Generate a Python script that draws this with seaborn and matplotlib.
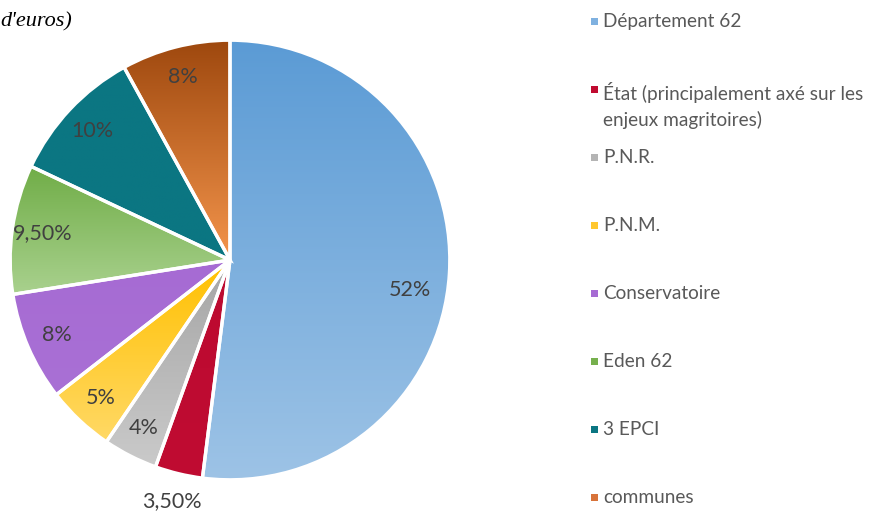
import numpy as np
import matplotlib
matplotlib.use("Agg")
import matplotlib.pyplot as plt
import seaborn as sns
from matplotlib.colors import LinearSegmentedColormap
from matplotlib.patches import Rectangle

sns.set_style("white")
plt.rcParams["font.family"] = ["Lato", "DejaVu Sans"]

# Data
categories = ["Département 62",
              "État (principalement axé sur les\nenjeux magritoires)",
              "P.N.R.", "P.N.M.", "Conservatoire", "Eden 62", "3 EPCI", "communes"]
shares = [52, 3.5, 4, 5, 8, 9.5, 10, 8]
pct_labels = ["52%", "3,50%", "4%", "5%", "8%", "9,50%", "10%", "8%"]
# gradient colours (top, bottom) for each slice
grad_top = ["#5B9BD5", "#BC0A30", "#A5A5A5", "#FFC000", "#A66BD3", "#70AD47", "#0B7682", "#9E480E"]
grad_bottom = ["#9DC3E6", "#C00C32", "#CACACA", "#FFD966", "#A970D5", "#A9D18E", "#0B7682", "#F4954C"]
marker_colors = ["#7FB1E0", "#C00A30", "#B4B4B4", "#FFC72E", "#A66BD3", "#76B04D", "#0B7682", "#D8733A"]

fig = plt.figure(figsize=(8.78, 5.11), dpi=100)
ax = fig.add_axes([(230 - 222) / 878, (251 - 222) / 511, 444 / 878, 444 / 511])

wedges, _ = ax.pie(shares, startangle=90, counterclock=False, radius=1.0,
                   colors=["none"] * len(shares),
                   wedgeprops=dict(edgecolor="white", linewidth=2.4, zorder=3))

grad = np.linspace(0, 1, 256).reshape(-1, 1)
for w, top, bot in zip(wedges, grad_top, grad_bottom):
    ext = w.get_path().get_extents()
    cmap = LinearSegmentedColormap.from_list("g", [top, bot])
    im = ax.imshow(grad, cmap=cmap, extent=[ext.x0, ext.x1, ext.y0, ext.y1],
                   origin="upper", aspect="auto", zorder=2, interpolation="bilinear")
    im.set_clip_path(w)

# percentage labels
biggest = int(np.argmax(shares))
for i, (w, lab, val) in enumerate(zip(wedges, pct_labels, shares)):
    mid = (w.theta1 + w.theta2) / 2
    d = 0.86
    if val < 4:
        d = 1.13
    if i == biggest:
        mid -= 6
        d = 0.83
    ang = np.deg2rad(mid)
    ax.text(d * np.cos(ang), d * np.sin(ang), lab, ha="center", va="center",
            fontsize=15.5, color="#404040", zorder=5)

ax.set_xlim(-1.01, 1.01)
ax.set_ylim(-1.01, 1.01)
ax.set_aspect("equal")
ax.axis("off")

# legend drawn on its own axes
lax = fig.add_axes([0, 0, 1, 1])
lax.set_xlim(0, 878)
lax.set_ylim(511, 0)
lax.axis("off")
for i, (lab, col) in enumerate(zip(categories, marker_colors)):
    y = 22 + i * 67.9
    lax.add_patch(Rectangle((591, y - 3.5), 7, 7, facecolor=col, edgecolor="none"))
    if "\n" in lab:
        lax.text(603, y - 8, lab, ha="left", va="top",
                 fontsize=13.7, color="#595959", linespacing=1.55)
    else:
        lax.text(603, y, lab, ha="left", va="center", fontsize=13.7, color="#595959")

# truncated title fragment
fig.text(0.0, 1 - 22 / 511, "d'euros)", fontsize=16, style="italic",
         family="Liberation Serif", ha="left", va="center", color="black")

fig.savefig("out.png", dpi=100)
